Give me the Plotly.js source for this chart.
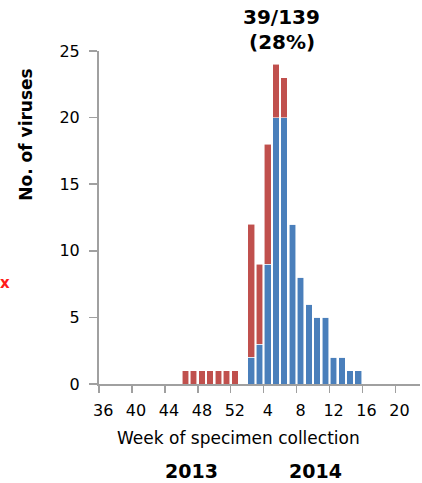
<!DOCTYPE html>
<html>
<head>
<meta charset="utf-8">
<script src="https://cdn.plot.ly/plotly-3.0.1.min.js"></script>
<style>html,body{margin:0;padding:0;background:#fff;}#chart{width:422px;height:483px;}</style>
</head>
<body>
<div id="chart"></div>
<script>
// Weeks of specimen collection (2013 weeks 36-52, 2014 weeks 1-22)
var weeks = ['36','37','38','39','40','41','42','43','44','45','46','47','48','49','50','51','52',
             '1','2','3','4','5','6','7','8','9','10','11','12','13','14','15','16','17','18','19','20','21','22'];
// Blue series (bottom)
var blueVals = [0,0,0,0,0,0,0,0,0,0,0,0,0,0,0,0,0,
                0,2,3,9,20,20,12,8,6,5,5,2,2,1,1,0,0,0,0,0,0,0];
// Red series (top)
var redVals  = [0,0,0,0,0,0,0,0,0,0,1,1,1,1,1,1,1,
                0,10,6,9,4,3,0,0,0,0,0,0,0,0,0,0,0,0,0,0,0,0];
var yTicks = [0,5,10,15,20,25];

var font = 'DejaVu Sans, Verdana, sans-serif';
var axisGray = '#a0a0a0';

var traces = [
  {type:'bar', x:weeks, y:blueVals, name:'blue',
   marker:{color:'#4A7FBB', line:{color:'rgba(255,255,255,0.7)', width:0.8}}, hoverinfo:'x+y'},
  {type:'bar', x:weeks, y:redVals, name:'red',
   marker:{color:'#C0504D', line:{color:'rgba(255,255,255,0.7)', width:0.8}}, hoverinfo:'x+y'}
];

function ann(text, x, y, size, extra) {
  var a = {text:text, xref:'paper', yref:'paper', x:x, y:y, xanchor:'center', yanchor:'middle',
           showarrow:false, font:{family:font, size:size, color:'#000'}};
  if (extra) for (var k in extra) a[k] = extra[k];
  return a;
}

var layout = {
  width:422, height:483,
  margin:{l:99, r:2, t:51, b:99},
  paper_bgcolor:'#fff', plot_bgcolor:'#fff',
  barmode:'stack', bargap:0.2, showlegend:false,
  font:{family:font, color:'#000', size:16},
  xaxis:{type:'category', categoryorder:'array', categoryarray:weeks,
         tickmode:'linear', tick0:0, dtick:4, tickson:'boundaries', tickangle:0,
         ticks:'outside', ticklen:7, tickwidth:1.5, tickcolor:axisGray,
         showline:true, linecolor:axisGray, linewidth:2, showgrid:false, zeroline:false,
         tickfont:{family:font, size:16, color:'#000'}, range:[-0.5,38.5], ticklabelstandoff:11},
  yaxis:{range:[0,25], tickvals:yTicks, ticks:'outside', ticklen:8, tickwidth:1.5, tickcolor:axisGray,
         showline:true, linecolor:axisGray, linewidth:2, showgrid:false, zeroline:false,
         tickfont:{family:font, size:16, color:'#000'}, ticklabelstandoff:6},
  annotations:[
    ann('<b>No. of viruses</b>', -0.228, 0.748, 17, {textangle:-90}),
    ann('Week of specimen collection', 0.435, -0.162, 17),
    ann('<b>2013</b>', 0.287, -0.261, 19),
    ann('<b>2014</b>', 0.673, -0.261, 19),
    ann('<b>39/139</b>', 0.570, 1.102, 20),
    ann('<b>(28%)</b>', 0.570, 1.027, 20),
    {text:'<b>x</b>', xref:'paper', yref:'paper', x:-0.292, y:0.303, xanchor:'center', yanchor:'middle',
     showarrow:false, font:{family:font, size:15, color:'#ff1a1a'}}
  ]
};

Plotly.newPlot('chart', traces, layout, {displayModeBar:false, staticPlot:true});
</script>
</body>
</html>
